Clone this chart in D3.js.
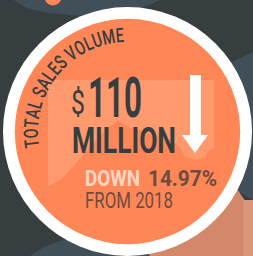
<!DOCTYPE html>
<html>
<head>
<meta charset="utf-8">
<title>Total sales volume</title>
<style>
  html, body { margin: 0; padding: 0; background: #363e40; }
  svg { display: block; }
  text { font-family: Roboto, "Liberation Sans", sans-serif; }
</style>
<script src="https://d3js.org/d3.v7.min.js"></script>
</head>
<body>
<svg id="chart" width="253" height="256"></svg>
<script>
// figures shown on the card
var titles = ["TOTAL SALES VOLUME"];
var amounts = [110];
var amountUnits = ["MILLION"];
var changePct = [14.97];
var changeDir = ["DOWN"];
var baseYears = [2018];

var W = 253, H = 256;
var cx = 127.5, cy = 131.5;
var svg = d3.select("#chart");

// background shapes
svg.append("rect").attr("width", W).attr("height", H).attr("fill", "#363e40");
svg.append("path").attr("fill", "#415058")
  .attr("d", "M14,0 C24,8 36,12 60,14 C90,17 110,18 130,12 C145,8 150,4 160,0 Z");
svg.append("circle").attr("cx", 53).attr("cy", -3).attr("r", 8.5).attr("fill", "#ff8657");
svg.append("path").attr("fill", "#415058")
  .attr("d", "M232,62 L253,52 L253,200 L236,190 Z");
svg.append("path").attr("fill", "#d4886a")
  .attr("d", "M228,176 L253,212 L253,256 L120,256 Z");
svg.append("rect").attr("x", 243).attr("y", 200).attr("width", 10).attr("height", 56)
  .attr("fill", "#d9967b");
svg.append("path").attr("fill", "#415058")
  .attr("d", "M30,256 C50,240 80,234 110,236 C130,238 145,246 150,256 Z");

// radius scale for the ring
var r = d3.scaleLinear().domain([0, 1]).range([0, 124.5]);
svg.append("circle").attr("cx", cx).attr("cy", cy).attr("r", r(1)).attr("fill", "#ffffff");
svg.append("circle").attr("cx", cx).attr("cy", cy).attr("r", r(0.905)).attr("fill", "#ff8657");

// faint map shape
svg.append("path").attr("fill", "#ff9a6e")
  .attr("d", "M48,80 L214,80 L214,148 L208,151 L205,157 L196,160 L184,156 L180,147 L170,140 L150,133 L130,128 L118,121 L108,128 L96,140 L84,154 L72,168 L60,180 L48,186 Z");

// curved title, one glyph at a time so it can be narrowed
var a0 = 170, a1 = 268, rr = 89.5, squeeze = 0.72, fs = 20;
var chars = titles[0].split("");
var probe = svg.append("text").attr("font-size", fs).attr("font-weight", 500);
var widths = chars.map(function (c) {
  probe.text(c === " " ? "\u00a0" : c);
  return probe.node().getComputedTextLength() * squeeze;
});
probe.remove();
var arcLen = (a1 - a0) * Math.PI / 180 * rr;
var natural = d3.sum(widths);
var gap = (arcLen - natural) / (chars.length - 1);
var angle = d3.scaleLinear().domain([0, arcLen]).range([a0, a1]);
var pos = 0;
var title = svg.append("g");
chars.forEach(function (c, i) {
  var mid = pos + widths[i] / 2;
  var a = angle(mid);
  var rad = a * Math.PI / 180;
  title.append("text")
    .attr("transform", "translate(" + (cx + rr * Math.cos(rad)) + "," + (cy + rr * Math.sin(rad)) +
      ") rotate(" + (a + 90) + ") scale(" + squeeze + ",1)")
    .attr("text-anchor", "middle")
    .attr("font-size", fs).attr("font-weight", 500).attr("fill", "#363e40")
    .text(c);
  pos += widths[i] + gap;
});

// headline number
svg.append("text").attr("x", 71).attr("y", 114)
  .attr("font-size", 34).attr("fill", "#363e40")
  .attr("textLength", 14).attr("lengthAdjust", "spacingAndGlyphs")
  .text("$");
svg.append("text").attr("x", 88).attr("y", 117)
  .attr("font-size", 55).attr("font-weight", 700).attr("fill", "#363e40")
  .attr("textLength", 54).attr("lengthAdjust", "spacingAndGlyphs")
  .text(amounts[0]);
svg.append("text").attr("x", 72).attr("y", 153)
  .attr("font-size", 37).attr("font-weight", 700).attr("fill", "#363e40")
  .attr("textLength", 104).attr("lengthAdjust", "spacingAndGlyphs")
  .text(amountUnits[0]);

// down arrow
svg.append("path").attr("fill", "#ffffff")
  .attr("d", "M190,75 L201,75 L201,135 L208,135 L195,153 L182,135 L190,135 Z");

// change line
svg.append("text").attr("x", 85).attr("y", 186)
  .attr("font-size", 22.5).attr("font-weight", 700).attr("fill", "#ffd7c3")
  .attr("textLength", 55).attr("lengthAdjust", "spacingAndGlyphs")
  .text(changeDir[0]);
svg.append("text").attr("x", 148).attr("y", 186)
  .attr("font-size", 22.5).attr("font-weight", 700).attr("fill", "#6f4c40")
  .attr("textLength", 69).attr("lengthAdjust", "spacingAndGlyphs")
  .text(changePct[0] + "%");
svg.append("text").attr("x", 85).attr("y", 208)
  .attr("font-size", 22.5).attr("fill", "#6f4c40")
  .attr("textLength", 88).attr("lengthAdjust", "spacingAndGlyphs")
  .text("FROM " + baseYears[0]);
</script>
</body>
</html>
